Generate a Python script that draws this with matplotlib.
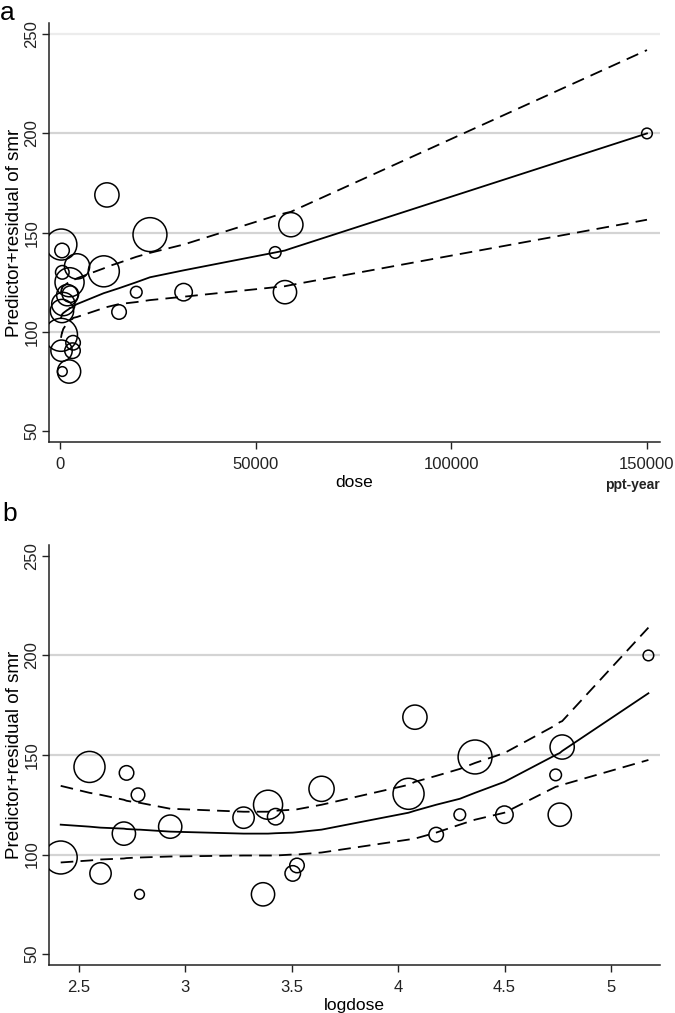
import numpy as np
import matplotlib
matplotlib.use("Agg")
import matplotlib.pyplot as plt

plt.rcParams['font.family'] = ['Liberation Sans', 'DejaVu Sans']
NARROW = ['Liberation Sans Narrow', 'Liberation Sans', 'DejaVu Sans']

# study data (sorted by dose)
dose = [260, 355, 400, 515, 530, 600, 610, 850, 1880, 2320, 2450, 2660, 3200,
        3350, 4370, 11200, 12000, 15100, 19500, 23000, 31600, 55000, 57500,
        59000, 150000]
smr = [98.5, 144, 90.5, 110.5, 141, 130, 80, 114, 118.5, 80, 125, 119, 90.5,
       94.5, 133, 130.5, 169, 110, 120, 149, 120, 140, 120, 154, 200]
weight = [289, 256, 121, 144, 56, 49, 25, 144, 121, 144, 225, 72, 64, 56, 169,
          256, 156, 56, 36, 306, 81, 36, 144, 156, 30]

# fitted values and confidence limits, model in dose (panel a)
fit_a = [107, 107.5, 108, 108.5, 108.5, 109, 109, 109.5, 111, 111.5, 112, 112,
         112.5, 113, 114, 119.5, 120, 122, 125, 127.5, 131, 140, 141, 142, 200]
upper_a = [120, 121, 121.5, 122, 122, 122.5, 122.5, 123, 124.5, 125, 125,
           125.5, 126, 126, 127, 132, 132.8, 134.8, 137.8, 139.8, 144, 158.5,
           159.8, 160.5, 242]
lower_a = [97, 98, 98.5, 99.5, 99.5, 100, 100, 101.5, 104.5, 105, 105.5, 106,
           106.5, 107, 107.5, 112, 112.5, 114, 115, 116, 117.7, 122.5, 123,
           123.6, 156.5]

# fitted values and confidence limits, model in logdose (panel b)
fit_b = [115, 114, 113.5, 113, 112.8, 112.5, 112.5, 111.5, 110.5, 110.5, 110.5,
         110.7, 111, 111.2, 112.5, 121, 122, 125, 128, 131, 136.5, 150, 151,
         152, 181]
upper_b = [134.5, 131, 130, 127.5, 127, 126, 126, 123, 121.5, 121.5, 121.5,
           122, 122.5, 122.7, 125, 135, 136.5, 139.5, 143, 146, 151, 165,
           166.5, 167, 214]
lower_b = [96, 97, 97.5, 98, 98.2, 98.5, 98.5, 99, 99.5, 99.5, 99.5, 99.5, 100,
           100, 101, 107.5, 108, 111, 115, 117.5, 121, 134, 134.5, 135, 147.5]

yticks = [50, 100, 150, 200, 250]

dose = np.array(dose)
logdose = np.log10(dose)
sizes = np.array(weight) * 1.95

fig = plt.figure(figsize=(6.75, 10.13), dpi=100)
ax_a = fig.add_axes([0.0726, 0.5637, 0.905, 0.4133])
ax_b = fig.add_axes([0.0726, 0.0474, 0.905, 0.4146])


def style_axes(ax, grid_vals, grid_colors):
    for s in ['top', 'right']:
        ax.spines[s].set_visible(False)
    for s in ['left', 'bottom']:
        ax.spines[s].set_linewidth(1.1)
        ax.spines[s].set_color('#222222')
    for g, c in zip(grid_vals, grid_colors):
        ax.axhline(g, color=c, lw=1.6, zorder=0)
    ax.set_ylim(44.5, 255.5)
    ax.set_yticks(yticks)
    ax.set_yticklabels([str(t) for t in yticks], rotation=90, va='center',
                       fontsize=12)
    ax.tick_params(axis='both', direction='out', length=5, width=1,
                   colors='#222222')
    ax.tick_params(axis='y', pad=2)
    ax.tick_params(axis='x', pad=6)
    ax.set_ylabel('Predictor+residual of smr', fontsize=13.5, labelpad=1)


def set_xaxis(ax, ticks, labels, title):
    ax.set_xticks(ticks)
    ax.set_xticklabels(labels, family=NARROW, fontsize=12)
    ax.set_xlabel(title, family=NARROW, fontsize=12.5, labelpad=2)


def draw_panel(ax, x, fit, upper, lower):
    ax.scatter(x, smr, s=sizes, facecolors='none', edgecolors='black',
               linewidths=1.1, zorder=3)
    ax.plot(x, fit, color='black', lw=1.3, zorder=2)
    ax.plot(x, upper, color='black', lw=1.3, dashes=(7, 4), zorder=2)
    ax.plot(x, lower, color='black', lw=1.3, dashes=(7, 4), zorder=2)


# panel a
draw_panel(ax_a, dose, fit_a, upper_a, lower_a)
style_axes(ax_a, [100, 150, 200, 250],
           ['#d4d4d4', '#d4d4d4', '#d4d4d4', '#ececec'])
ax_a.set_xlim(-2800, 153300)
set_xaxis(ax_a, [0, 50000, 100000, 150000],
          ['0', '50000', '100000', '150000'], 'dose')
fig.text(632 / 675, 1 - 485 / 1013, 'ppt-year', family=NARROW, fontsize=10,
         fontweight='bold', ha='center', va='center', color='#222222')
fig.text(0.0, 1 - 1 / 1013, 'a', fontsize=19, ha='left', va='top')

# panel b
draw_panel(ax_b, logdose, fit_b, upper_b, lower_b)
style_axes(ax_b, [100, 150, 200], ['#d4d4d4'] * 3)
ax_b.set_xlim(2.36, 5.23)
set_xaxis(ax_b, [2.5, 3, 3.5, 4, 4.5, 5],
          ['2.5', '3', '3.5', '4', '4.5', '5'], 'logdose')
fig.text(0.004, 1 - 514 / 1013, 'b', fontsize=19, ha='left', va='center')

fig.savefig('out.png', dpi=100)
